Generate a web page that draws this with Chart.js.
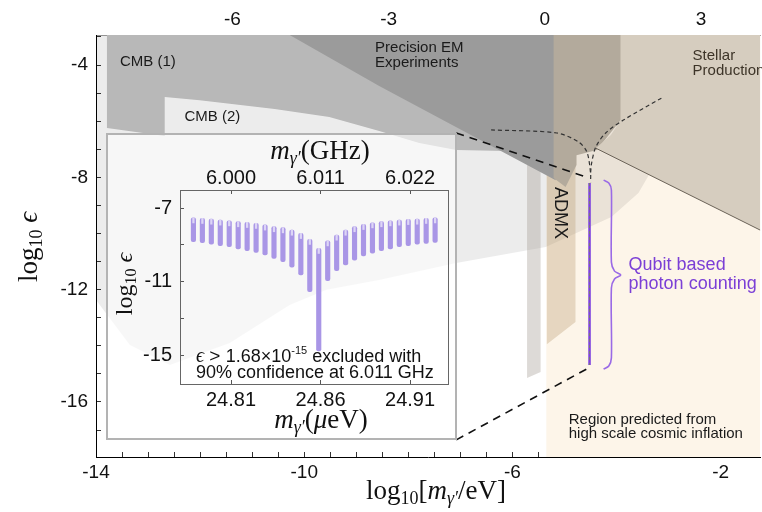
<!DOCTYPE html>
<html>
<head>
<meta charset="utf-8">
<script src="https://cdn.jsdelivr.net/npm/chart.js@4.4.1/dist/chart.umd.min.js"></script>
<style>
  body { margin: 0; background: #fff; }
  #wrap { position: relative; width: 762px; height: 512px; }
  #main { position: absolute; left: 0; top: 0; }
  #insetBox { position: absolute; left: 106px; top: 133px; width: 351px; height: 307px; box-sizing: border-box;
    border: 2px solid #b3b3b3; background: rgba(255,255,255,0.6); }
  #inset { position: absolute; left: 106px; top: 133px; }
</style>
</head>
<body>
<div id="wrap">
  <canvas id="main" width="762" height="512"></canvas>
  <div id="insetBox"></div>
  <canvas id="inset" width="351" height="307"></canvas>
</div>
<script>
// ---- main plot : log10(m/eV) vs log10(eps) ----
const massRange = [-14, -1.24]
const epsRange = [-17.96, -2.93]
const ghzShift = 5.38   // log10(GHz per eV)

const lightGrayRegion = [[-14,-2.93],[-3.1,-2.93],[-3.1,-7.03],[-3.58,-8.56],[-4.1,-9.41],[-5.36,-10.48],[-7.08,-11.05],[-8.56,-11.66],[-9.57,-12.0],[-10.28,-12.55],[-11.43,-13.9],[-12.58,-14.68],[-13.35,-13.97],[-14,-12.37]]
const cmb1Region = [[-13.79,-2.93],[-5.21,-2.93],[-5.21,-7.10],[-7.08,-7.03],[-7.79,-6.78],[-8.56,-6.35],[-9.52,-5.85],[-10.57,-5.57],[-12.01,-5.25],[-12.68,-5.14],[-12.68,-6.53],[-13.79,-6.24]]
const precisionRegion = [[-10.28,-2.93],[-5.17,-2.93],[-5.17,-8.10],[-7.41,-5.89],[-8.56,-4.75]]
const columnRegion = [[-5.21,-2.93],[-3.92,-2.93],[-3.92,-5.96],[-4.38,-7.03],[-4.77,-7.21],[-4.77,-7.56],[-4.98,-8.34],[-5.21,-8.02]]
const stellarRegion = [[-3.92,-2.93],[-1.24,-2.93],[-1.24,-9.88],[-4.40,-6.96],[-4.11,-6.49],[-3.92,-5.96]]
const stellarEdge = [[-4.40,-6.96],[-1.24,-9.88]]
const inflationRegion = [[-5.35,-17.96],[-1.24,-17.96],[-1.24,-2.93],[-5.35,-2.93]]
const grayBand = [[-5.72,-7.03],[-5.46,-7.03],[-5.46,-14.93],[-5.72,-15.15]]
const admxBand = [[-5.34,-7.5],[-4.79,-7.5],[-4.79,-13.15],[-5.34,-13.94]]
const curveA = [[-6.41,-6.31],[-5.15,-6.42],[-4.73,-6.74],[-4.57,-7.10],[-4.50,-7.85],[-4.50,-8.17]]
const curveB = [[-3.14,-5.18],[-3.87,-5.96],[-4.21,-6.42],[-4.40,-6.92],[-4.48,-7.49],[-4.50,-7.85]]
const zoomTop = [[-7.08,-6.42],[-4.54,-8.02]]
const zoomBottom = [[-7.08,-17.35],[-4.50,-14.75]]
const qubitReach = [[-4.52,-8.20],[-4.52,-14.68]]
const brace = [[-4.25,-8.10],[-4.15,-8.20],[-4.10,-8.45],[-4.10,-11.02],[-4.04,-11.34],[-3.92,-11.48],[-4.04,-11.62],[-4.10,-11.94],[-4.10,-14.43],[-4.15,-14.72],[-4.25,-14.83]]

// ---- inset : single tone scans around 6.011 GHz ----
const toothMass = [24.789,24.794,24.799,24.804,24.809,24.814,24.819,24.824,24.829,24.834,24.839,24.844,24.849,24.854,24.859,24.864,24.869,24.874,24.879,24.884,24.889,24.894,24.899,24.904,24.909,24.914,24.919,24.924]
const toothTop = [-7.53,-7.56,-7.60,-7.65,-7.69,-7.74,-7.78,-7.83,-7.92,-8.01,-8.07,-8.20,-8.38,-8.70,-9.19,-8.78,-8.47,-8.20,-8.01,-7.89,-7.80,-7.74,-7.69,-7.65,-7.62,-7.60,-7.56,-7.53]
const toothBottom = [-8.83,-8.88,-8.96,-9.05,-9.10,-9.23,-9.32,-9.41,-9.55,-9.74,-9.92,-10.22,-10.64,-11.55,-14.77,-10.95,-10.41,-10.10,-9.83,-9.61,-9.46,-9.32,-9.23,-9.10,-9.05,-8.97,-8.92,-8.87]
const massTicks = [24.81, 24.86, 24.91]
const ghzLabels = ['6.000', '6.011', '6.022']
const insetEpsTicks = [-15, -13, -11, -9, -7]
const insetMassRange = [24.7815, 24.9312]
const insetEpsRange = [-16.57, -6.02]

const sans = 'Liberation Sans, Arial, sans-serif'
const serif = 'Liberation Serif, DejaVu Serif, serif'

const pts = arr => arr.map(p => ({x: p[0], y: p[1]}))

function area(arr, color, order) {
  const d = pts(arr)
  d.push(d[0])
  return {data: d, showLine: true, fill: 'shape', backgroundColor: color, borderColor: 'rgba(0,0,0,0)',
    borderWidth: 0, pointRadius: 0, order: order}
}
function line(arr, color, width, dash, order, tension) {
  return {data: pts(arr), showLine: true, fill: false, borderColor: color, borderWidth: width,
    borderDash: dash, pointRadius: 0, tension: tension || 0, order: order}
}

function drawRich(ctx, parts, x, y, align, rot, color) {
  ctx.save()
  ctx.translate(x, y)
  if (rot) ctx.rotate(rot)
  ctx.fillStyle = color || '#111'
  ctx.textBaseline = 'middle'
  ctx.textAlign = 'left'
  let w = 0
  parts.forEach(p => { ctx.font = p[1]; w += ctx.measureText(p[0]).width })
  let cx = align == 'center' ? -w / 2 : (align == 'right' ? -w : 0)
  parts.forEach(p => {
    ctx.font = p[1]
    ctx.fillText(p[0], cx, p[2] || 0)
    cx += ctx.measureText(p[0]).width
  })
  ctx.restore()
}

const mainLabels = [
  {t: 'CMB (1)', x: -13.54, y: -3.89, size: 15},
  {t: 'CMB (2)', x: -12.30, y: -5.85, size: 15},
  {t: 'Precision EM', x: -8.64, y: -3.39, size: 15},
  {t: 'Experiments', x: -8.64, y: -3.93, size: 15},
  {t: 'Stellar', x: -2.54, y: -3.68, size: 15, color: '#3d3428'},
  {t: 'Production', x: -2.54, y: -4.21, size: 15, color: '#3d3428'},
  {t: 'Region predicted from', x: -4.92, y: -16.64, size: 15},
  {t: 'high scale cosmic inflation', x: -4.92, y: -17.14, size: 15},
  {t: 'Qubit based', x: -3.77, y: -11.12, size: 18, color: '#7b3fd6'},
  {t: 'photon counting', x: -3.77, y: -11.80, size: 18, color: '#7b3fd6'}
]

const mainText = {
  id: 'mainText',
  afterDatasetsDraw(chart) {
    const ctx = chart.ctx, sx = chart.scales.x, sy = chart.scales.y
    ctx.save()
    ctx.textBaseline = 'middle'
    mainLabels.forEach(l => {
      ctx.font = l.size + 'px ' + sans
      ctx.fillStyle = l.color || '#1a1a1a'
      ctx.fillText(l.t, sx.getPixelForValue(l.x), sy.getPixelForValue(l.y))
    })
    ctx.translate(sx.getPixelForValue(-5.09), sy.getPixelForValue(-9.27))
    ctx.rotate(Math.PI / 2)
    ctx.textAlign = 'center'
    ctx.font = '18px ' + sans
    ctx.fillStyle = '#1a1a1a'
    ctx.fillText('ADMX', 0, 0)
    ctx.restore()
  },
  afterDraw(chart) {
    const ctx = chart.ctx
    drawRich(ctx, [['log', '27px ' + serif], ['10', '18px ' + serif, 7], ['[', '27px ' + serif], ['m', 'italic 27px ' + serif],
      ['\u03b3\u2032', 'italic 18px ' + serif, 7], ['/eV]', '27px ' + serif]], 436, 492, 'center', 0, '#111')
    drawRich(ctx, [['log', '27px ' + serif], ['10', '18px ' + serif, 7], [' \u03f5', 'italic 27px ' + serif]],
      30, 247, 'center', -Math.PI / 2, '#111')
  }
}

const tickFont = {family: sans, size: 19}

new Chart(document.getElementById('main'), {
  type: 'scatter',
  data: {
    datasets: [
      line(zoomTop, '#111', 1.6, [8, 6], 1),
      line(zoomBottom, '#111', 1.6, [8, 6], 1),
      line(brace, '#9a6ae6', 1.6, [], 2, 0.3),
      line(qubitReach, '#777', 1, [3, 3], 3),
      line(qubitReach, '#7b3fe0', 2.5, [], 4),
      line(curveA, '#333', 1.2, [4, 3], 5, 0.3),
      line(curveB, '#333', 1.2, [4, 3], 5, 0.3),
      line(stellarEdge, '#6b6358', 1, [], 6),
      area(stellarRegion, '#d6cdbf', 7),
      area(columnRegion, '#b3aa9c', 8),
      area(precisionRegion, '#9b9b9b', 9),
      area(admxBand, 'rgba(185,155,115,0.34)', 10),
      area(grayBand, 'rgba(150,140,130,0.32)', 11),
      area(cmb1Region, '#b8b8b8', 12),
      area(lightGrayRegion, 'rgba(0,0,0,0.075)', 13),
      area(inflationRegion, '#fdf5e9', 14)
    ]
  },
  options: {
    responsive: false,
    animation: false,
    devicePixelRatio: 1,
    layout: {padding: 0},
    plugins: {legend: {display: false}, tooltip: {enabled: false}},
    scales: {
      x: {
        type: 'linear', position: 'bottom', min: massRange[0], max: massRange[1],
        afterFit: s => { s.height = 55 },
        ticks: {stepSize: 0.5, includeBounds: false, padding: 9, font: tickFont, color: '#111', maxRotation: 0, autoSkip: false,
          callback: v => Math.abs((v + 14) % 4) < 1e-6 ? v : ''},
        grid: {drawOnChartArea: false, tickLength: -5, color: '#333'},
        border: {color: '#000', width: 1}
      },
      xTop: {
        type: 'linear', position: 'top', min: massRange[0] + ghzShift, max: massRange[1] + ghzShift,
        afterFit: s => { s.height = 35 },
        ticks: {stepSize: 1, includeBounds: false, padding: 9, font: tickFont, color: '#111', maxRotation: 0, autoSkip: false,
          callback: v => Math.abs(v % 3) < 1e-6 ? Math.round(v) : ''},
        grid: {drawOnChartArea: false, tickLength: -5, color: '#444'},
        border: {color: '#a0a0a0', width: 1}
      },
      y: {
        type: 'linear', position: 'left', min: epsRange[0], max: epsRange[1],
        afterFit: s => { s.width = 96 },
        ticks: {stepSize: 1, includeBounds: false, padding: 13, font: tickFont, color: '#111', autoSkip: false,
          callback: v => Math.abs(v % 4) < 1e-6 ? v : ''},
        grid: {drawOnChartArea: false, tickLength: -5, color: '#333'},
        border: {color: '#000', width: 1}
      }
    }
  },
  plugins: [mainText]
})

// ---- inset ----
const notchDepth = 0.28
const insetFont = {family: sans, size: 20}

const insetText = {
  id: 'insetText',
  afterDraw(chart) {
    const ctx = chart.ctx
    drawRich(ctx, [['m', 'italic 27px ' + serif], ['\u03b3\u2032', 'italic 18px ' + serif, 7], ['(GHz)', '27px ' + serif]],
      214, 19, 'center', 0, '#111')
    drawRich(ctx, [['m', 'italic 27px ' + serif], ['\u03b3\u2032', 'italic 18px ' + serif, 7], ['(', '27px ' + serif],
      ['\u03bc', 'italic 27px ' + serif], ['eV)', '27px ' + serif]], 215, 288, 'center', 0, '#111')
    drawRich(ctx, [['log', '24px ' + serif], ['10', '16px ' + serif, 6], [' \u03f5', 'italic 24px ' + serif]],
      20, 151, 'center', -Math.PI / 2, '#111')
    drawRich(ctx, [['\u03f5', 'italic 20px ' + serif], [' > ', '19px ' + sans], ['1.68\u00d710', '18px ' + sans],
      ['-15', '11px ' + sans, -6], [' excluded with', '18px ' + sans]], 90, 224, 'left', 0, '#111')
    drawRich(ctx, [['90% confidence at 6.011 GHz', '18px ' + sans]], 90, 240, 'left', 0, '#111')
  }
}

new Chart(document.getElementById('inset'), {
  type: 'bar',
  data: {
    datasets: [
      {data: toothMass.map((m, i) => ({x: m, y: [toothTop[i] - notchDepth, toothTop[i]]})), backgroundColor: '#ddd5f6',
        barThickness: 1.6, grouped: false, order: 1},
      {data: toothMass.map((m, i) => ({x: m, y: [toothBottom[i], toothTop[i]]})), backgroundColor: '#a996e6',
        barThickness: 4.5, grouped: false, borderRadius: 2, borderSkipped: false, order: 2}
    ]
  },
  options: {
    responsive: false,
    animation: false,
    devicePixelRatio: 1,
    layout: {padding: {right: 9}},
    plugins: {legend: {display: false}, tooltip: {enabled: false}},
    scales: {
      x: {
        type: 'linear', position: 'bottom', min: insetMassRange[0], max: insetMassRange[1], offset: false,
        afterFit: s => { s.height = 56 },
        afterBuildTicks: s => { s.ticks = massTicks.map(v => ({value: v})) },
        ticks: {padding: 8, font: insetFont, color: '#111', maxRotation: 0, autoSkip: false, callback: v => v.toFixed(2)},
        grid: {drawOnChartArea: false, tickLength: -4, color: '#555', offset: false},
        border: {color: '#666'}
      },
      x2: {
        type: 'linear', position: 'top', min: insetMassRange[0], max: insetMassRange[1], offset: false,
        afterFit: s => { s.height = 57 },
        afterBuildTicks: s => { s.ticks = massTicks.map(v => ({value: v})) },
        ticks: {padding: 4, font: insetFont, color: '#111', maxRotation: 0, autoSkip: false, callback: (v, i) => ghzLabels[i]},
        grid: {drawOnChartArea: false, tickLength: -4, color: '#555', offset: false},
        border: {color: '#666'}
      },
      y: {
        type: 'linear', position: 'left', min: insetEpsRange[0], max: insetEpsRange[1],
        afterFit: s => { s.width = 74 },
        afterBuildTicks: s => { s.ticks = insetEpsTicks.map(v => ({value: v})) },
        ticks: {padding: 12, font: insetFont, color: '#111', autoSkip: false,
          callback: v => Math.abs((v + 15) % 4) < 1e-6 ? v : ''},
        grid: {drawOnChartArea: false, tickLength: -4, color: '#555'},
        border: {color: '#666'}
      },
      y2: {
        type: 'linear', position: 'right', min: insetEpsRange[0], max: insetEpsRange[1],
        afterFit: s => { s.width = 0 },
        ticks: {display: false},
        grid: {display: false},
        border: {color: '#666'}
      }
    }
  },
  plugins: [insetText]
})
</script>
</body>
</html>
